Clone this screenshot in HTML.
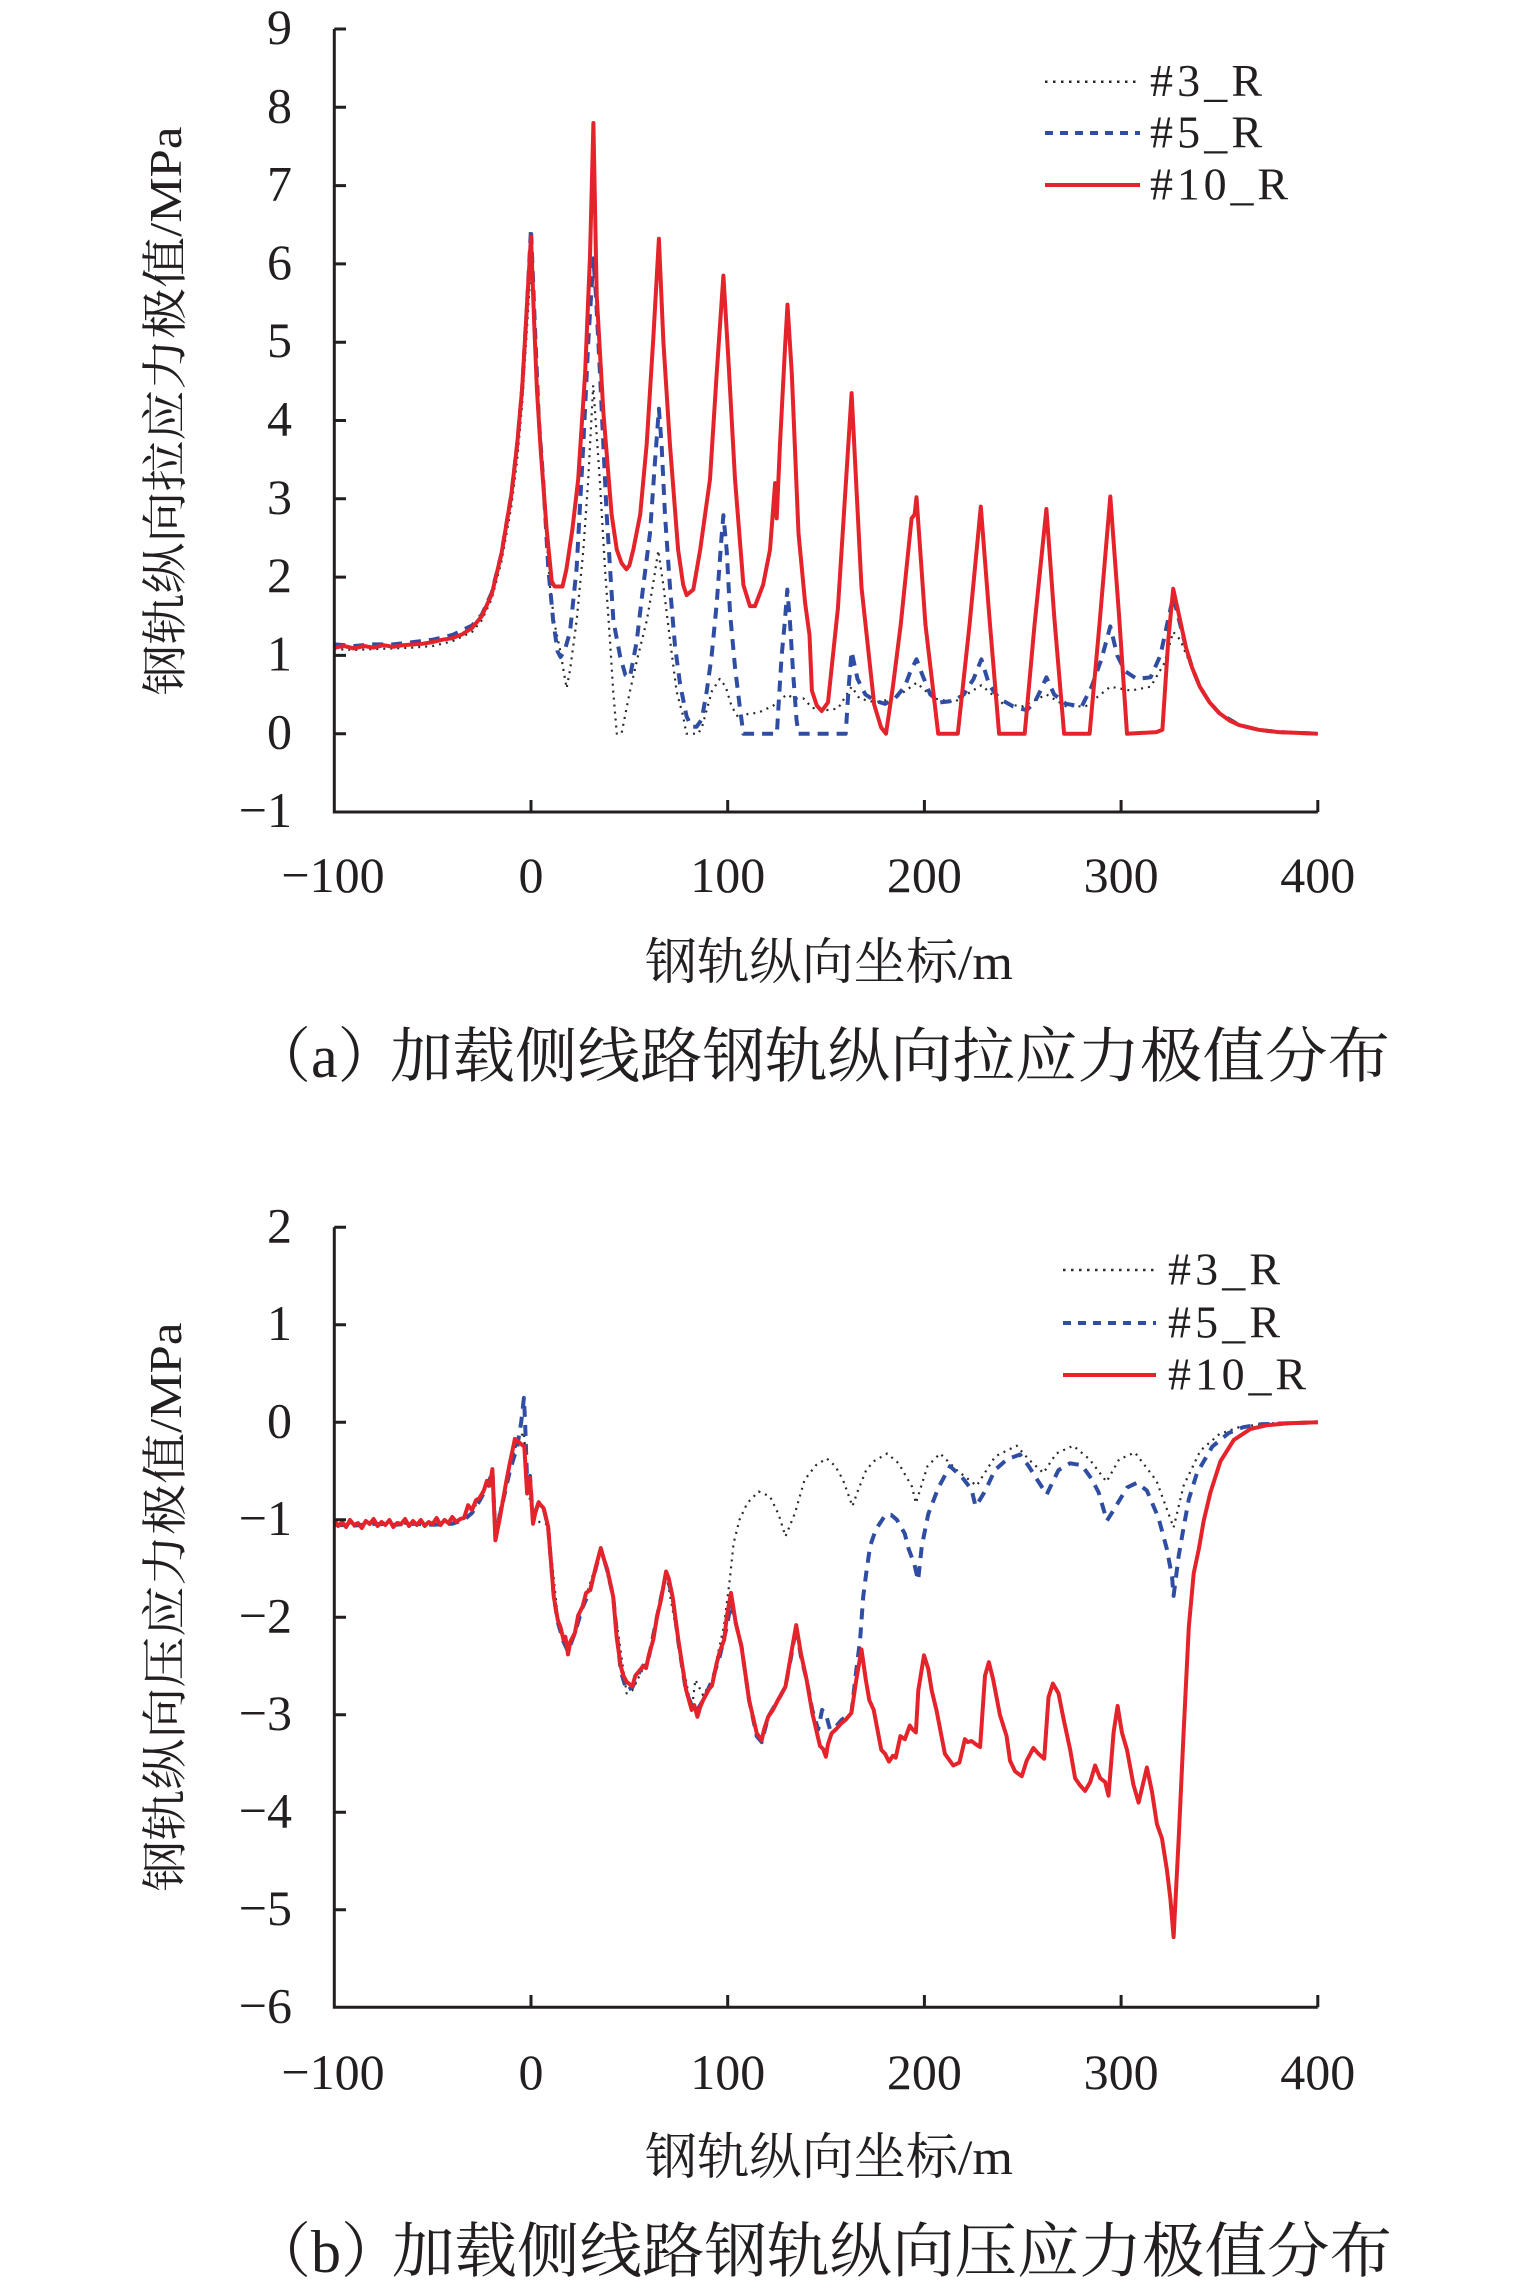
<!DOCTYPE html>
<html>
<head>
<meta charset="utf-8">
<style>
html,body{margin:0;padding:0;background:#fff;}
svg{display:block;}
.tk{font-family:"Liberation Serif","Noto Serif CJK SC",serif;font-size:50px;fill:#231f20;}
.lg{font-family:"Liberation Serif",serif;font-size:46px;fill:#231f20;}
.cj{font-family:"Liberation Serif","Noto Serif CJK SC",serif;fill:#231f20;}
</style>
</head>
<body>
<svg width="1535" height="2293" viewBox="0 0 1535 2293" xmlns="http://www.w3.org/2000/svg">
<rect width="1535" height="2293" fill="#fff"/>

<!-- ============ PLOT A ============ -->
<g fill="none" stroke-linejoin="round" stroke-linecap="butt">
<polyline stroke="#2a2a2a" stroke-width="2.2" stroke-dasharray="2 5" points="334.3,649.1 354.0,649.9 373.6,649.1 393.3,648.4 413.0,647.6 432.6,646.0 452.3,641.3 472.0,631.9 481.8,620.2 491.7,599.0 501.5,561.4 511.3,506.6 517.2,459.6 522.1,404.8 527.1,326.5 531.0,263.9 534.9,342.2 538.9,428.3 543.2,487.1 549.9,585.7 554.6,624.1 559.9,649.1 566.6,688.3 570.0,670.3 576.6,620.9 583.3,550.5 588.2,480.0 593.2,385.3 599.8,480.0 605.0,568.5 609.9,639.0 613.2,691.4 616.8,733.7 621.5,733.7 629.9,691.4 637.2,659.3 646.7,620.9 653.0,584.9 658.3,550.5 663.4,585.7 669.9,639.0 676.6,691.4 683.2,716.5 686.4,733.7 698.2,733.7 702.1,726.7 711.8,691.4 719.8,678.9 725.7,686.7 731.6,706.3 739.5,719.6 747.4,714.1 758.6,712.6 773.5,705.5 786.7,694.5 794.6,698.5 803.6,698.5 812.3,707.9 826.1,710.2 837.9,708.6 851.6,686.7 859.5,698.5 875.2,702.4 894.9,698.5 916.5,682.8 934.2,698.5 953.9,702.4 981.4,685.2 1003.1,703.9 1022.8,706.3 1046.4,694.5 1066.0,706.3 1085.7,706.3 1110.3,686.7 1130.9,690.6 1150.6,686.7 1164.4,663.2 1173.2,631.9 1180.1,639.7 1190.0,663.2 1199.8,686.7 1209.6,702.4 1219.5,713.3 1239.1,725.1 1258.8,729.8 1278.5,732.1 1317.8,733.7"/>
<polyline stroke="#2f4ea3" stroke-width="4" stroke-dasharray="11 8" points="334.3,644.4 354.0,646.0 373.6,644.4 393.3,644.4 413.0,642.1 432.6,639.7 452.3,635.0 472.0,625.6 481.8,614.7 491.7,592.8 501.5,553.6 511.3,494.9 517.2,444.0 522.1,389.2 527.1,303.0 531.0,228.7 534.9,326.5 538.9,420.5 543.2,480.0 548.3,568.5 553.2,620.9 557.6,651.5 560.5,657.0 564.4,651.5 570.0,631.9 576.6,568.5 583.3,444.8 588.4,339.1 593.4,258.4 595.9,295.2 600.0,374.3 606.7,515.2 613.4,620.9 620.1,656.2 625.4,675.0 629.9,677.3 636.6,642.1 643.3,585.7 650.0,533.3 654.9,462.8 658.9,408.8 661.6,444.8 665.0,515.2 669.9,585.7 675.0,646.0 680.1,684.4 686.6,716.5 691.5,726.7 696.6,726.7 701.7,719.6 706.7,691.4 711.6,656.2 716.7,603.7 721.6,536.4 723.4,515.2 726.7,550.5 730.1,613.9 735.0,667.1 740.1,709.4 743.4,733.7 776.9,733.7 778.3,709.4 781.6,656.2 784.9,620.9 787.3,589.6 789.9,620.9 793.2,674.2 796.5,719.6 798.5,733.7 845.7,733.7 848.7,686.7 851.6,651.5 857.5,678.9 865.4,694.5 875.2,700.8 885.1,703.9 894.9,698.5 904.7,686.7 910.6,671.1 916.5,659.3 922.4,675.0 930.3,694.5 940.1,702.4 953.9,700.8 963.7,694.5 973.6,678.9 981.4,659.3 989.3,685.2 999.1,698.5 1012.9,706.3 1026.7,710.2 1034.6,702.4 1040.5,690.6 1046.4,677.3 1054.2,694.5 1066.0,703.9 1081.8,706.3 1091.6,686.7 1101.4,659.3 1110.3,626.4 1117.2,655.4 1125.0,671.1 1136.8,678.9 1150.6,677.3 1160.4,655.4 1166.3,628.0 1173.2,596.7 1180.1,624.1 1186.0,647.6 1191.9,667.1 1199.8,686.7 1209.6,702.4 1219.5,713.3 1239.1,725.1 1258.8,729.8 1278.5,732.1 1317.8,733.7"/>
<polyline stroke="#e4232b" stroke-width="4" points="334.3,647.6 344.1,646.0 354.0,648.4 363.8,646.0 373.6,647.6 383.5,645.2 393.3,646.8 403.1,645.2 413.0,644.4 422.8,643.7 432.6,642.1 442.5,639.7 452.3,638.2 462.2,634.3 472.0,628.0 481.8,616.2 491.7,594.3 501.5,553.6 511.3,494.9 517.2,444.0 522.1,389.2 527.1,303.0 531.0,236.5 534.0,318.7 536.9,389.2 540.8,451.8 546.7,530.1 551.7,581.0 554.6,586.5 562.5,586.5 566.4,569.3 572.3,530.1 578.2,479.2 585.1,373.5 590.0,256.1 593.4,123.0 596.7,295.2 603.4,412.7 611.6,514.5 616.8,549.7 621.5,563.0 626.4,569.3 629.4,565.4 633.3,549.7 640.2,514.5 646.7,444.0 653.3,338.3 658.9,238.8 663.4,342.2 669.9,444.0 678.1,549.7 683.2,584.9 686.6,595.1 693.3,589.6 700.2,549.7 710.0,479.2 716.7,373.5 723.4,275.6 728.3,357.9 735.0,479.2 743.4,584.9 749.9,606.1 755.0,606.1 763.1,584.9 770.0,549.7 775.1,483.1 776.7,518.4 780.0,444.0 785.1,346.1 787.5,304.6 791.8,373.5 798.5,533.3 805.2,603.7 809.5,635.0 811.9,690.6 816.8,705.5 821.7,711.0 828.0,702.4 837.9,608.4 851.6,393.1 861.5,587.3 874.2,704.7 881.1,727.4 886.0,733.7 892.9,686.7 900.8,624.1 911.6,518.4 914.6,514.5 916.5,497.2 925.4,624.1 938.2,733.7 957.8,733.7 969.6,624.1 980.8,506.6 989.3,616.2 999.1,733.7 1024.7,733.7 1034.6,624.1 1046.4,509.0 1054.2,616.2 1064.1,733.7 1089.6,733.7 1099.5,624.1 1110.3,496.5 1119.1,616.2 1127.0,733.7 1156.5,732.1 1162.4,729.8 1168.3,639.7 1173.2,588.8 1180.1,620.2 1186.0,647.6 1191.9,667.1 1199.8,686.7 1209.6,702.4 1219.5,713.3 1229.3,720.4 1239.1,725.1 1258.8,729.8 1278.5,732.1 1298.1,732.9 1317.8,733.7"/>
</g>

<g stroke="#231f20" stroke-width="3" fill="none">
<polyline points="334.3,29 334.3,812 1317.8,812"/>
<path d="M334.3,29H346M334.3,107.3H346M334.3,185.6H346M334.3,263.9H346M334.3,342.2H346M334.3,420.5H346M334.3,498.8H346M334.3,577.1H346M334.3,655.4H346M334.3,733.7H346"/>
<path d="M531,812V800M727.7,812V800M924.4,812V800M1121.1,812V800M1317.8,812V800"/>
</g>
<g class="tk" text-anchor="end">
<text x="292" y="44">9</text>
<text x="292" y="122.3">8</text>
<text x="292" y="200.6">7</text>
<text x="292" y="278.9">6</text>
<text x="292" y="357.2">5</text>
<text x="292" y="435.5">4</text>
<text x="292" y="513.8">3</text>
<text x="292" y="592.1">2</text>
<text x="292" y="670.4">1</text>
<text x="292" y="748.7">0</text>
<text x="292" y="827">−1</text>
</g>
<g class="tk" text-anchor="middle">
<text x="333" y="892">−100</text>
<text x="531" y="892">0</text>
<text x="727.7" y="892">100</text>
<text x="924.4" y="892">200</text>
<text x="1121.1" y="892">300</text>
<text x="1317.8" y="892">400</text>
</g>

<g fill="none">
<line x1="1045" y1="81.7" x2="1140" y2="81.7" stroke="#2a2a2a" stroke-width="2.5" stroke-dasharray="2.5 5.5"/>
<line x1="1045" y1="133" x2="1140" y2="133" stroke="#2f4ea3" stroke-width="4" stroke-dasharray="8 7"/>
<line x1="1045" y1="185" x2="1140" y2="185" stroke="#e4232b" stroke-width="4"/>
</g>
<text class="lg" x="1150" y="96" textLength="112" lengthAdjust="spacing">#3_R</text>
<text class="lg" x="1150" y="147.5" textLength="112" lengthAdjust="spacing">#5_R</text>
<text class="lg" x="1150" y="199.5" textLength="138" lengthAdjust="spacing">#10_R</text>

<text class="cj" font-size="46" transform="translate(181,411) rotate(-90)" text-anchor="middle" textLength="569" lengthAdjust="spacingAndGlyphs">钢轨纵向拉应力极值/MPa</text>
<text class="cj" font-size="50" x="645" y="979" textLength="368" lengthAdjust="spacingAndGlyphs">钢轨纵向坐标/m</text>
<text class="cj" font-size="60" x="251" y="1077">（a）</text>
<text class="cj" font-size="60" x="390" y="1077" textLength="1000" lengthAdjust="spacingAndGlyphs">加载侧线路钢轨纵向拉应力极值分布</text>

<!-- ============ PLOT B ============ -->
<g fill="none" stroke-linejoin="round" stroke-linecap="butt">
<polyline stroke="#2a2a2a" stroke-width="2.2" stroke-dasharray="2 5" points="334.3,1523.7 413.0,1523.7 452.3,1522.7 472.0,1512.0 487.7,1482.8 492.4,1471.1 495.4,1529.6 509.8,1466.2 517.2,1441.8 523.9,1432.1 527.1,1480.8 533.0,1519.8 548.1,1524.7 557.8,1617.3 568.0,1651.4 582.5,1607.6 600.8,1549.1 613.2,1597.8 626.6,1693.4 632.3,1690.4 649.0,1656.3 666.1,1573.4 678.3,1641.7 691.7,1709.9 695.4,1679.7 703.1,1695.3 712.0,1680.7 723.8,1627.1 729.7,1580.3 733.6,1543.2 739.5,1519.8 747.2,1503.2 758.6,1491.5 770.0,1496.4 778.8,1514.9 785.5,1536.4 795.0,1513.0 804.6,1479.8 816.0,1465.2 826.8,1458.4 835.3,1466.2 843.0,1479.8 852.4,1506.2 858.3,1489.6 866.2,1470.1 873.8,1461.3 887.2,1453.5 898.6,1463.3 912.0,1486.7 915.9,1503.2 927.5,1466.2 940.1,1453.5 957.8,1471.1 976.7,1485.7 995.2,1456.4 1016.7,1445.7 1028.7,1459.4 1043.4,1473.0 1056.2,1453.5 1073.3,1445.7 1089.6,1459.4 1106.5,1481.8 1119.1,1459.4 1134.9,1452.5 1156.5,1480.8 1173.6,1527.6 1183.6,1485.7 1200.4,1450.6 1219.5,1434.0 1239.1,1427.2 1268.6,1423.3 1317.8,1422.3"/>
<polyline stroke="#2f4ea3" stroke-width="4" stroke-dasharray="11 8" points="334.3,1524.7 354.0,1525.6 373.6,1523.7 393.3,1524.7 413.0,1523.7 432.6,1524.7 452.3,1523.7 464.1,1519.8 472.0,1513.0 479.9,1500.3 487.7,1485.7 492.4,1471.1 495.4,1534.4 502.1,1505.2 509.8,1471.1 517.2,1446.7 521.2,1422.3 523.9,1397.9 525.1,1422.3 527.1,1480.8 530.0,1475.9 533.0,1519.8 538.7,1502.3 543.6,1508.1 548.1,1526.6 553.8,1596.8 557.8,1622.2 563.5,1641.7 568.0,1651.4 574.9,1632.9 582.5,1607.6 590.2,1590.0 600.8,1549.1 607.3,1570.5 613.2,1596.8 620.7,1670.9 626.6,1690.4 632.3,1687.5 640.0,1670.9 649.0,1656.3 656.9,1617.3 666.1,1573.4 672.6,1596.8 678.3,1641.7 686.0,1691.4 691.7,1705.1 697.4,1709.9 703.1,1700.2 712.0,1680.7 719.8,1656.3 726.7,1627.1 731.0,1602.7 735.8,1623.2 741.5,1646.6 749.1,1700.2 756.8,1736.3 761.7,1742.1 768.2,1716.8 777.9,1700.2 785.5,1686.5 791.2,1656.3 796.2,1627.1 800.9,1656.3 806.6,1679.7 812.3,1709.9 818.2,1729.4 822.1,1709.9 826.1,1714.8 830.0,1729.4 835.9,1726.5 841.8,1719.7 851.4,1712.9 855.6,1675.8 860.1,1639.7 863.2,1596.8 866.2,1573.4 870.1,1546.1 875.8,1529.6 885.4,1514.9 891.2,1514.9 896.9,1519.8 904.7,1533.5 908.7,1549.1 914.2,1563.7 918.1,1580.3 921.8,1546.1 928.3,1513.9 938.4,1487.6 950.0,1466.2 961.8,1476.9 971.6,1489.6 975.5,1506.2 979.5,1500.3 985.4,1490.6 994.8,1470.1 1007.0,1459.4 1020.0,1454.5 1028.7,1466.2 1036.7,1478.9 1046.7,1494.5 1052.3,1482.8 1058.5,1470.1 1070.0,1463.3 1081.8,1465.2 1091.6,1478.9 1098.7,1492.5 1106.9,1520.8 1113.6,1510.1 1127.0,1487.6 1136.8,1482.8 1146.9,1490.6 1158.5,1517.9 1166.9,1549.1 1172.1,1577.3 1173.6,1595.9 1178.7,1555.9 1183.6,1527.6 1188.8,1499.3 1197.0,1473.0 1212.2,1446.7 1228.7,1433.0 1243.1,1427.2 1260.4,1424.3 1288.3,1423.3 1317.8,1422.3"/>
<polyline stroke="#e4232b" stroke-width="4" points="334.3,1520 338.2,1526 342.2,1522 346.1,1527 350.0,1520 354.0,1525 357.9,1523 361.8,1528 365.8,1521 369.7,1524 373.6,1519 377.6,1526 381.5,1522 385.4,1525 389.4,1520 393.3,1527 397.2,1523 401.2,1524 405.1,1519 409.0,1526 413.0,1521 416.9,1525 420.8,1520 424.8,1526 428.7,1522 432.6,1524 436.6,1518 440.5,1525 444.5,1520 448.4,1523 452.3,1517 456.3,1522 460.2,1519 464.1,1517.9 468.1,1505.2 472.0,1510.1 475.9,1500.3 479.3,1498.4 483.8,1490.6 486.9,1480.8 489.7,1485.7 492.4,1469.1 495.4,1540.3 499.5,1519.8 502.1,1505.2 506.4,1480.8 509.8,1463.3 514.9,1438.9 524.3,1446.7 527.1,1493.5 530.0,1477.9 533.0,1523.7 535.9,1510.1 538.7,1502.3 540.8,1505.2 543.6,1508.1 548.1,1526.6 550.7,1558.8 553.8,1596.8 557.8,1620.2 560.5,1627.1 563.5,1639.7 565.4,1636.8 568.0,1654.4 570.3,1641.7 574.9,1632.9 578.2,1615.4 582.5,1606.6 586.1,1592.9 590.2,1590.0 595.9,1566.6 600.8,1548.1 603.8,1558.8 607.3,1569.5 613.2,1596.8 616.6,1636.8 620.7,1666.1 623.4,1675.8 626.6,1681.7 632.3,1686.5 635.3,1675.8 640.0,1670.0 643.1,1666.1 646.1,1668.0 649.0,1654.4 653.3,1639.7 656.9,1617.3 661.0,1599.8 666.1,1571.5 668.7,1578.3 672.6,1596.8 678.3,1639.7 686.0,1689.5 691.7,1709.9 694.3,1705.1 697.4,1716.8 700.2,1707.0 703.1,1700.2 708.8,1689.5 712.0,1685.6 716.7,1663.1 719.8,1651.4 724.2,1639.7 726.7,1617.3 731.0,1592.9 735.8,1623.2 741.5,1646.6 749.1,1700.2 756.8,1733.3 761.7,1740.2 764.1,1729.4 768.2,1716.8 772.9,1709.9 777.9,1700.2 780.8,1695.3 785.5,1686.5 791.2,1653.4 796.2,1625.1 800.9,1653.4 806.6,1679.7 812.3,1712.9 820.0,1746.0 823.1,1748.9 825.9,1756.7 828.0,1744.1 831.6,1733.3 835.9,1729.4 841.0,1723.6 845.7,1719.7 851.4,1712.9 856.3,1679.7 861.5,1649.5 865.8,1679.7 869.3,1700.2 873.7,1709.9 881.3,1749.9 885.1,1753.8 889.0,1761.6 892.9,1755.8 895.7,1757.7 900.4,1736.2 904.9,1739.2 909.8,1725.5 912.6,1729.4 915.9,1732.4 918.3,1690.4 924.0,1655.3 928.3,1669.0 931.7,1690.4 936.6,1710.9 944.9,1753.8 953.3,1765.5 959.4,1762.6 964.9,1739.2 967.7,1742.1 971.6,1741.1 975.5,1744.1 980.1,1747.0 985.0,1675.8 988.9,1662.2 993.2,1679.7 999.9,1714.8 1006.6,1736.2 1010.0,1760.6 1015.1,1771.4 1021.8,1776.2 1026.7,1760.6 1033.4,1748.0 1038.5,1753.8 1044.2,1758.7 1048.5,1697.3 1052.9,1683.6 1058.5,1693.4 1063.5,1718.7 1070.2,1749.9 1075.1,1778.2 1079.8,1785.0 1085.1,1790.9 1090.2,1782.1 1095.1,1765.5 1100.2,1778.2 1105.2,1782.1 1108.5,1795.7 1113.6,1732.4 1117.6,1706.0 1121.9,1732.4 1127.0,1749.9 1133.5,1785.0 1138.6,1802.6 1146.9,1767.5 1152.0,1791.8 1156.9,1824.0 1162.0,1838.6 1166.9,1869.8 1170.3,1898.1 1173.6,1937.1 1178.7,1838.6 1183.6,1732.4 1188.8,1627.1 1193.7,1573.4 1198.8,1549.1 1203.7,1520.8 1210.4,1492.5 1220.4,1461.3 1233.8,1439.9 1250.3,1429.1 1267.0,1425.2 1288.3,1423.3 1317.8,1422.3"/>
</g>

<g stroke="#231f20" stroke-width="3" fill="none">
<polyline points="334.3,1227.3 334.3,2007.3 1317.8,2007.3"/>
<path d="M334.3,1227.3H346M334.3,1324.8H346M334.3,1422.3H346M334.3,1519.8H346M334.3,1617.3H346M334.3,1714.8H346M334.3,1812.3H346M334.3,1909.8H346"/>
<path d="M531,2007.3V1995M727.7,2007.3V1995M924.4,2007.3V1995M1121.1,2007.3V1995M1317.8,2007.3V1995"/>
</g>
<g class="tk" text-anchor="end">
<text x="292" y="1242.3">2</text>
<text x="292" y="1339.8">1</text>
<text x="292" y="1437.3">0</text>
<text x="292" y="1534.8">−1</text>
<text x="292" y="1632.3">−2</text>
<text x="292" y="1729.8">−3</text>
<text x="292" y="1827.3">−4</text>
<text x="292" y="1924.8">−5</text>
<text x="292" y="2022.3">−6</text>
</g>
<g class="tk" text-anchor="middle">
<text x="333" y="2089">−100</text>
<text x="531" y="2089">0</text>
<text x="727.7" y="2089">100</text>
<text x="924.4" y="2089">200</text>
<text x="1121.1" y="2089">300</text>
<text x="1317.8" y="2089">400</text>
</g>

<g fill="none">
<line x1="1063" y1="1270" x2="1156" y2="1270" stroke="#2a2a2a" stroke-width="2.5" stroke-dasharray="2.5 5.5"/>
<line x1="1063" y1="1323" x2="1156" y2="1323" stroke="#2f4ea3" stroke-width="4" stroke-dasharray="8 7"/>
<line x1="1063" y1="1375" x2="1156" y2="1375" stroke="#e4232b" stroke-width="4"/>
</g>
<text class="lg" x="1168" y="1284.5" textLength="112" lengthAdjust="spacing">#3_R</text>
<text class="lg" x="1168" y="1337.5" textLength="112" lengthAdjust="spacing">#5_R</text>
<text class="lg" x="1168" y="1389.5" textLength="138" lengthAdjust="spacing">#10_R</text>

<text class="cj" font-size="46" transform="translate(181,1607) rotate(-90)" text-anchor="middle" textLength="569" lengthAdjust="spacingAndGlyphs">钢轨纵向压应力极值/MPa</text>
<text class="cj" font-size="50" x="645" y="2174" textLength="368" lengthAdjust="spacingAndGlyphs">钢轨纵向坐标/m</text>
<text class="cj" font-size="60" x="251" y="2272">（b）</text>
<text class="cj" font-size="60" x="392" y="2272" textLength="1000" lengthAdjust="spacingAndGlyphs">加载侧线路钢轨纵向压应力极值分布</text>
</svg>
</body>
</html>
